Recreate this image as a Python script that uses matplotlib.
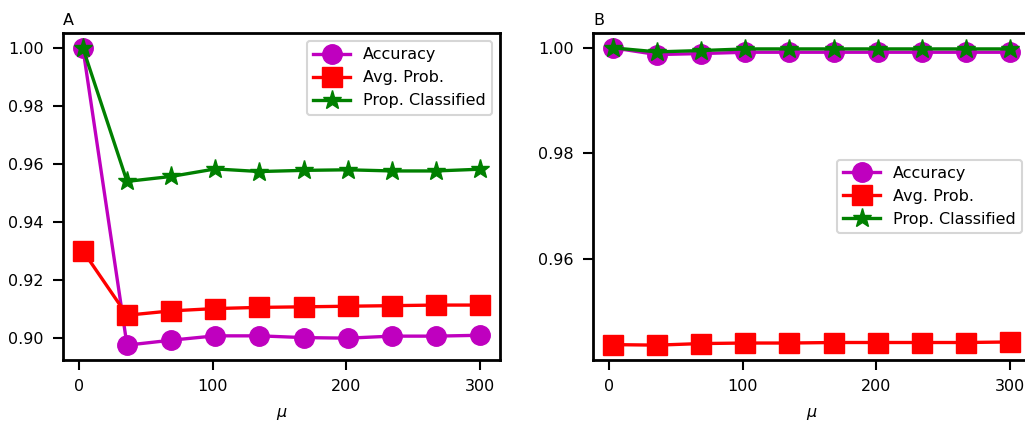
import numpy as np
import matplotlib
matplotlib.use("Agg")
import matplotlib.pyplot as plt

mu = [3, 36, 69, 102, 135, 168, 201, 234, 267, 300]

# panel A
acc_a = [1.0, 0.8976, 0.8993, 0.9008, 0.9008, 0.9002, 0.9000, 0.9007, 0.9007, 0.9010]
prob_a = [0.9301, 0.9079, 0.9094, 0.9102, 0.9106, 0.9108, 0.9110, 0.9112, 0.9114, 0.9114]
prop_a = [1.0, 0.9540, 0.9557, 0.9583, 0.9574, 0.9578, 0.9580, 0.9576, 0.9576, 0.9582]

# panel B
acc_b = [1.0, 0.99873, 0.99892, 0.99917, 0.99917, 0.99917, 0.99917, 0.99917, 0.99917, 0.99917]
prob_b = [0.9437, 0.9436, 0.9439, 0.9440, 0.9440, 0.9441, 0.9441, 0.9441, 0.9441, 0.9442]
prop_b = [1.0, 0.99924, 0.99949, 0.9998, 0.9998, 0.9998, 0.9998, 0.9998, 0.9998, 0.9998]

plt.rcParams['font.size'] = 11.5

fig = plt.figure(figsize=(10.25, 4.26), dpi=100)
W, H = 1025.0, 426.0
axA = fig.add_axes([63 / W, 66 / H, 437 / W, 327 / H])
axB = fig.add_axes([593 / W, 66 / H, 437 / W, 327 / H])

def draw(ax, acc, prob, prop, title, loc):
    ax.plot(mu, acc, color='m', marker='o', markersize=14, lw=2.4, label='Accuracy')
    ax.plot(mu, prob, color='r', marker='s', markersize=14, lw=2.4, label='Avg. Prob.')
    ax.plot(mu, prop, color='g', marker='*', markersize=14, lw=2.4, label='Prop. Classified')
    ax.set_title(title, loc='left', fontsize=11.5, pad=6)
    ax.set_xlabel(r'$\mu$', labelpad=8)
    ax.set_xticks([0, 100, 200, 300])
    for s in ax.spines.values():
        s.set_linewidth(2)
    ax.tick_params(width=1.5, length=7, pad=7)
    leg = ax.legend(loc=loc, handlelength=2.3, fontsize=11.5, framealpha=0.8,
                    labelspacing=0.5)
    leg.get_frame().set_linewidth(1.5)

draw(axA, acc_a, prob_a, prop_a, 'A', 'upper right')
axA.set_yticks([0.90, 0.92, 0.94, 0.96, 0.98, 1.00])
draw(axB, acc_b, prob_b, prop_b, 'B', 'center right')
axB.set_yticks([0.96, 0.98, 1.00])

fig.savefig('out.png', dpi=100)
